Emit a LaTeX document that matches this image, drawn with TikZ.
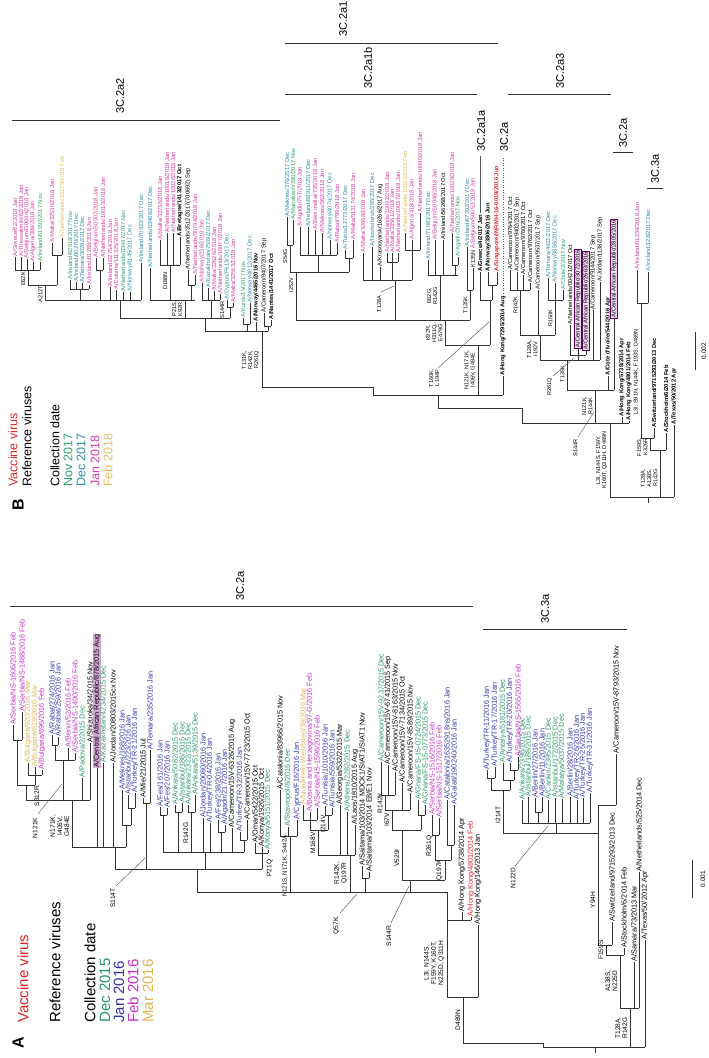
\documentclass[tikz,border=0pt]{standalone}
\usepackage{fontspec}
\setmainfont{Liberation Sans}
\definecolor{vacred}{RGB}{218,40,40}
\definecolor{cgreen}{RGB}{40,150,105}
\definecolor{cblue}{RGB}{52,52,165}
\definecolor{cmag}{RGB}{196,50,200}
\definecolor{cgold}{RGB}{222,182,84}
\definecolor{bgreen}{RGB}{50,160,110}
\definecolor{bteal}{RGB}{48,140,172}
\definecolor{bmag}{RGB}{212,60,165}
\definecolor{bgold}{RGB}{226,194,96}
\newcounter{lfn}
\newcounter{mtn}
\newcommand{\lfont}{}
\newcommand{\mfont}{}
\newcommand{\lf}[5]{\stepcounter{lfn}\draw[tr] (#1,#2) -- (#1,#3) node[lbl,text=#4] (lf\arabic{lfn}) {#5};}
\newcommand{\lfh}[4]{\stepcounter{lfn}\draw[tr] (#1,#2) -- (#1,#3) node[lbl,hl] (lf\arabic{lfn}) {#4};}
\newcommand{\lfb}[4]{\stepcounter{lfn}\draw[tr] (#1,#2) -- (#1,#3) node[lbl,bx] (lf\arabic{lfn}) {#4};}
\newcommand{\br}[3]{\draw[tr] (#1,#2) -- (#1,#3);}
\newcommand{\cn}[3]{\draw[tr] (#2,#1) -- (#3,#1);}
\newcommand{\mt}[3]{\stepcounter{mtn}\node[mut] (mt\arabic{mtn}) at (#1,#2) {#3};}

\begin{document}
\begin{tikzpicture}[x=1pt,y=-1pt,
  tr/.style={line width=0.75pt, draw=black!80},
  ptr/.style={line width=0.45pt, draw=black!65},
  lbl/.style={rotate=90, anchor=west, inner sep=0.5pt, font=\lfont},
  mut/.style={rotate=90, anchor=south, align=center, inner sep=0.5pt, font=\mfont},
  hl/.style={text=black, fill=violet!35, inner sep=0.4pt},
  bx/.style={text=black, draw=violet!75!black, fill=violet!15, line width=0.5pt, inner sep=0.7pt},
  clade/.style={rotate=90, anchor=west, inner sep=0pt, font=\fontsize{11}{13}\selectfont},
  legA/.style={rotate=90, anchor=west, inner sep=0pt, font=\fontsize{15}{17}\selectfont},
  legB/.style={rotate=90, anchor=west, inner sep=0pt, font=\fontsize{12.5}{14}\selectfont},
  panel/.style={rotate=90, font=\fontsize{16}{18}\selectfont\bfseries},
  scl/.style={rotate=90, font=\fontsize{6.5}{7}\selectfont}
]
\fill[white] (0,0) rectangle (709,1058);
\useasboundingbox (0,0) rectangle (709,1058);

%% panel A
\def\lfont{\fontsize{7.3}{8}\selectfont}
\def\mfont{\fontsize{6.6}{7.2}\selectfont}
\node[panel] (pA) at (18,1043) {A};
\node[legA,text=vacred] (vacA) at (23,1023) {Vaccine virus};
\node[legA] (refA) at (55,1023) {Reference viruses};
\node[legA] (colA) at (90,1023) {Collection date};
\node[legA,text=cgreen] (m1A) at (105,1023) {Dec 2015};
\node[legA,text=cblue] (m2A) at (119,1023) {Jan 2016};
\node[legA,text=cmag] (m3A) at (133,1023) {Feb 2016};
\node[legA,text=cgold] (m4A) at (148,1023) {Mar 2016};

\draw[tr] (10,606) -- (473,606);
\node[clade] (c2aA) at (240,601) {3C.2a};
\draw[tr] (483,629) -- (627,629);
\node[clade] (c3aA) at (545,624) {3C.3a};
\draw[tr] (692,860) -- (692,898);
\node[scl] (sA) at (703,879) {0.001};

\cn{740}{13}{22} \br{17}{785}{740}
\lf{13}{740}{725}{cmag}{A/Serbia/NS-1606/2016 Feb}
\lf{22}{740}{712}{cmag}{A/Serbia/NS-1488/2016 Feb}
\cn{775}{28}{42} \br{35}{785}{775}
\lf{28}{775}{763}{cgold}{A/Bulgaria/920/2016 Mar}
\lf{35}{775}{767}{cgold}{A/Bulgaria/619/2016 Mar}
\lf{42}{775}{770}{cmag}{A/Bulgaria/696/2016 Feb}
\cn{785}{17}{35} \br{26}{800}{785}
\mt{40}{796}{S312R}
\cn{745}{52}{58} \br{55}{760}{745}
\lf{52}{745}{735}{cblue}{A/Rabat/274/2016 Jan}
\lf{58}{745}{737}{cblue}{A/Rabat/259/2016 Jan}
\lf{68}{760}{748}{cmag}{A/Benin/52/2016 Feb}
\lf{75}{760}{753}{cmag}{A/Serbia/NS-1490/2016 Feb}
\cn{760}{55}{75} \br{63}{800}{760}
\lf{82}{800}{778}{cgreen}{A/Padova/2/2015 Dec}
\lf{90}{800}{743}{black}{A/Shizuoka/34/2015 Nov}
\cn{800}{26}{90} \br{72}{847}{800}
\mt{38}{828}{N121K}
\draw[ptr] (38,814) -- (62,784);
\mt{70}{826}{N171K,\\I406V,\\G484E}
\lfh{97}{847}{768}{A/Central African Republic/878/2015 Aug}
\lf{103}{847}{763}{cgreen}{A/Kazakhstan/4234/2015 Dec}
\lf{113}{847}{763}{black}{A/Jordan/20803/2015cx Nov}
\cn{825}{122}{131} \br{126}{847}{825}
\lf{122}{825}{790}{cblue}{A/Meknes/168/2016 Jan}
\cn{808}{128}{135} \br{131}{825}{808}
\lf{128}{808}{795}{cblue}{A/Istanbul/223/2016 Jan}
\lf{135}{808}{793}{cblue}{A/Turkey/TR-21/2016 Jan}
\cn{847}{72}{126} \br{115}{869}{847}
\cn{803}{143}{150} \br{146}{869}{803}
\lf{143}{803}{798}{black}{A/Mie/21/2015 Jul}
\lf{150}{803}{750}{cblue}{A/Temara/235/2016 Jan}
\mt{116}{898}{S114T}
\draw[ptr] (116,886) -- (145,858);
\cn{852}{163}{244} \br{205}{869}{852}
\cn{815}{160}{167} \br{163}{852}{815}
\lf{160}{815}{807}{cblue}{A/Fes/161/2016 Jan}
\lf{167}{815}{808}{cblue}{A/Fes/207/2016 Jan}
\cn{812}{175}{182} \br{178}{852}{812}
\lf{175}{812}{805}{cgreen}{A/Ankara/5082/2015 Dec}
\lf{182}{812}{803}{cgreen}{A/Istanbul/186/2015 Dec}
\cn{812}{188}{195} \br{191}{852}{812}
\mt{189}{833}{R142G}
\lf{188}{812}{805}{cgreen}{A/Ankara/2322/2015 Dec}
\lf{195}{812}{795}{cgreen}{A/Ankara/5139/2015 Dec}
\lf{203}{852}{818}{cblue}{A/Jordan/20080/2016 Jan}
\lf{210}{852}{823}{cblue}{A/Turkey/TR-04/2016 Jan}
\cn{832}{218}{225} \br{221}{852}{832}
\lf{218}{832}{820}{cblue}{A/Fes/238/2016 Jan}
\lf{225}{832}{825}{cblue}{A/Agadir/217/2016 Jan}
\lf{232}{852}{828}{black}{A/Cameroon/15V-6326/2015 Aug}
\cn{840}{240}{247} \br{244}{852}{840}
\lf{240}{840}{832}{cblue}{A/Turkey/TR-32/2016 Jan}
\lf{247}{840}{820}{black}{A/Cameroon/15V-7723/2015 Oct}
\cn{853}{255}{268} \br{262}{869}{853}
\lf{255}{853}{843}{black}{A/Oman/5422/2015 Oct}
\lf{262}{853}{847}{black}{A/Konya/1926/2015 Oct}
\lf{268}{853}{850}{cgreen}{A/Konya/5151/2015 Dec}
\node[mut,anchor=north] (p21q) at (266,868) {P21Q};
\cn{869}{115}{262} \br{197}{892}{869}

\cn{836}{280}{297} \br{290}{892}{836}
\lf{280}{836}{790}{black}{A/Catalonia/83966/2015 Nov}
\lf{288}{836}{827}{cgreen}{A/Stavropol/8/2015 Dec}
\lf{297}{836}{820}{cblue}{A/Cyprus/F16/2016 Jan}
\node[mut,font=\fontsize{6}{7}\selectfont] (n121s) at (288,866) {N121S, N171K, S442A};
\br{350}{892}{855} \cn{855}{318}{355}
\mt{348}{873}{R142K,\\Q197R}
\br{318}{855}{830} \cn{830}{310}{328}
\mt{316}{843}{M168V}
\br{310}{830}{820} \cn{820}{303}{317}
\lf{303}{820}{805}{cgold}{A/Nordrhein Westfalen/39/2016 Mar}
\lf{310}{820}{812}{cmag}{A/Bosnia and Herzegovina/97-G/2016 Feb}
\lf{317}{820}{808}{cmag}{A/Serbia/NS-1598/2016 Feb}
\br{328}{830}{815} \cn{815}{325}{332}
\mt{326}{824}{I214V}
\lf{325}{815}{806}{cblue}{A/Tunisia/1010/2016 Jan}
\lf{332}{815}{808}{cblue}{A/Tunisia/559/2016 Jan}
\lf{340}{855}{805}{black}{A/Georgia/532/2015 Mar}
\lf{347}{855}{812}{cgreen}{A/Athens/2282/2015 Dec}
\lf{355}{855}{825}{black}{A/Laos/1810/2015 Aug}
\cn{878}{362}{369} \br{365}{892}{878}
\lf{362}{878}{866}{black}{A/Saitama/103/2014 MDCK1/SIAT1/SIAT1 Nov}
\lf{369}{878}{872}{black}{A/Saitama/103/2014 E8/E1 Nov}
\mt{340}{926}{Q57K}
\draw[ptr] (340,913) -- (357,894);

\br{410}{892}{880} \cn{880}{402}{445}
\br{402}{880}{830} \mt{400}{858}{V529I}
\cn{830}{392}{421}
\br{392}{830}{810} \mt{390}{820}{I67V}
\cn{810}{385}{410}
\br{385}{810}{795} \mt{383}{803}{R142K}
\cn{795}{381}{395}
\lf{381}{795}{762}{cgreen}{A/Cameroon/15V-9237/2015 Dec}
\lf{388}{795}{765}{black}{A/Cameroon/15V-6741/2015 Sep}
\lf{395}{795}{772}{black}{A/Cameroon/15V-8163/2015 Nov}
\lf{402}{810}{783}{black}{A/Cameroon/15V-7134/2015 Oct}
\lf{410}{810}{793}{black}{A/Cameroon/15V-8589/2015 Nov}
\br{421}{830}{815} \cn{815}{418}{425}
\lf{418}{815}{800}{cgreen}{A/Ghana/FS-15-0724/2015 Dec}
\lf{425}{815}{805}{cgreen}{A/Ghana/FS-15-0773/2015 Dec}
\br{445}{880}{860} \mt{443}{870}{Q197K}
\cn{860}{435}{451}
\br{435}{860}{835} \mt{433}{846}{R261Q}
\cn{835}{432}{439}
\lf{432}{835}{815}{cmag}{A/Serbia/NS-1516/2016 Feb}
\lf{439}{835}{818}{cmag}{A/Serbia/NS-1517/2016 Feb}
\br{451}{860}{845} \cn{845}{447}{454}
\lf{447}{845}{800}{cblue}{A/Catalonia/16352918ns/2016 Jan}
\lf{454}{845}{805}{cblue}{A/Galati/190240/2016 Jan}
\mt{392}{936}{S144R}
\draw[ptr] (391,923) -- (409,886);

\cn{892}{197}{447}
\cn{920}{447}{471}
\lf{462}{920}{912}{black}{A/Hong Kong/5738/2014 Apr}
\lf{471}{920}{917}{vacred}{A/Hong Kong/4801/2014 Feb}
\br{447}{997}{892}
\mt{445}{963}{L3I, N144S,\\F159Y, K160T,\\N225D, Q311H}
\lf{478}{997}{925}{black}{A/Hong Kong/146/2013 Jan}
\cn{997}{447}{478}
\br{463}{1043}{997} \mt{461}{1020}{D489N}
\cn{1043}{463}{543} \br{543}{1043}{1047}
\cn{1047}{543}{645} \br{595}{1047}{1053}
\lf{645}{1047}{940}{black}{A/Texas/50/2012 Apr}
\br{630}{1047}{1008} \mt{628}{1028}{T128A,\\R142G}
\cn{1008}{620}{639}
\lf{634}{1008}{962}{black}{A/Samara/73/2013 Mar}
\lf{639}{1008}{872}{black}{A/Netherlands/525/2014 Dec}
\br{620}{1008}{955} \mt{618}{981}{A138S,\\N225D}
\cn{955}{606}{624}
\lf{624}{955}{948}{black}{A/Stockholm/6/2014 Feb}
\br{606}{955}{945} \mt{604}{950}{F159S}
\cn{945}{598}{612}
\lf{612}{945}{922}{black}{A/Switzerland/9715293/2013 Dec}
\br{598}{945}{805} \mt{596}{900}{Y94H}
\cn{805}{598}{616}
\lf{616}{805}{754}{black}{A/Cameroon/15V-8793/2015 Nov}
\cn{833}{503}{598}
\br{556}{833}{823} \cn{823}{522}{590}
\lf{522}{823}{800}{cgreen}{A/Ankara/2396/2015 Dec}
\lf{528}{823}{797}{cgreen}{A/Istanbul/188/2015 Dec}
\cn{812}{535}{542} \br{538}{823}{812}
\lf{535}{812}{798}{cblue}{A/Berlin/27/2016 Jan}
\lf{542}{812}{797}{cblue}{A/Berlin/11/2016 Jan}
\lf{548}{823}{800}{cgreen}{A/Cankiri/2395/2015 Dec}
\lf{555}{823}{798}{cgreen}{A/Istanbul/172/2015 Dec}
\lf{562}{823}{799}{cgreen}{A/Malatya/5037/2015 Dec}
\lf{570}{823}{797}{cblue}{A/Berlin/28/2016 Jan}
\lf{577}{823}{800}{cblue}{A/Turkey/TR-26/2016 Jan}
\lf{583}{823}{798}{cblue}{A/Turkey/TR-25/2016 Jan}
\lf{590}{823}{793}{cblue}{A/Turkey/TR-31/2016 Jan}
\mt{516}{878}{N122D}
\draw[ptr] (515,866) -- (548,826);
\br{503}{833}{790} \mt{501}{815}{I214T}
\cn{790}{491}{510}
\br{491}{790}{778} \cn{778}{487}{495}
\lf{487}{778}{770}{cblue}{A/Turkey/TR-11/2016 Jan}
\lf{495}{778}{767}{cblue}{A/Turkey/TR-17/2016 Jan}
\br{510}{790}{780} \cn{780}{503}{514}
\lf{503}{780}{763}{cgreen}{A/Antalya/5181/2015 Dec}
\br{514}{780}{770} \cn{770}{510}{518}
\lf{510}{770}{763}{cblue}{A/Turkey/TR-20/2016 Jan}
\lf{518}{770}{757}{cmag}{A/Serbia/NS-1565/2016 Feb}

%% panel B
\def\lfont{\fontsize{5.8}{6.5}\selectfont}
\def\mfont{\fontsize{5.6}{6.2}\selectfont}
\node[panel] (pB) at (18,505) {B};
\node[legB,text=vacred] (vacB) at (13,487) {Vaccine virus};
\node[legB] (refB) at (27,487) {Reference viruses};
\node[legB] (colB) at (55,487) {Collection date};
\node[legB,text=bgreen] (m1B) at (68,487) {Nov 2017};
\node[legB,text=bteal] (m2B) at (81,487) {Dec 2017};
\node[legB,text=bmag] (m3B) at (95,487) {Jan 2018};
\node[legB,text=bgold] (m4B) at (108,487) {Feb 2018};

\draw[tr] (12,120) -- (280,120);
\node[clade] (c2a2) at (120,114) {3C.2a2};
\draw[tr] (285,43) -- (498,43);
\node[clade] (c2a1) at (343,37) {3C.2a1};
\draw[tr] (285,94) -- (477,94);
\node[clade] (c2a1b) at (368,89) {3C.2a1b};
\draw[tr] (508,94) -- (611,94);
\node[clade] (c2a3) at (560,89) {3C.2a3};
\node[clade] (c2a1a) at (481,152) {3C.2a1a};
\node[clade] (c2aB) at (504,152) {3C.2a};
\draw[tr] (613,152) -- (633,152);
\node[clade] (c2aC) at (623,148) {3C.2a};
\draw[tr] (647,188) -- (663,188);
\node[clade] (c3aB) at (655,184) {3C.3a};
\draw[tr] (695,332) -- (695,370);
\node[scl] (sB) at (704,351) {0.002};

\cn{270}{15}{40} \br{28}{285}{270}
\mt{26}{279}{E62K}
\lf{15}{270}{257}{bmag}{A/Greece/62/2018 Jan}
\lf{21}{270}{257}{bmag}{A/Thessaloniki/62/2018 Jan}
\lf{27}{270}{259}{bmag}{A/Belgium/G0044/2018 Jan}
\lf{33}{270}{262}{bmag}{A/Algeria/388/2018 Jan}
\lf{40}{270}{262}{bgreen}{A/Ireland/61097/2017 Nov}
\cn{255}{52}{62} \br{57}{285}{255}
\lf{52}{255}{243}{bmag}{A/Malta/32530/2018 Jan}
\lf{62}{255}{238}{bgold}{A/Netherlands/10279/2018 Feb}
\cn{285}{28}{57} \br{45}{300}{285}
\mt{43}{294}{A212T}
\cn{289}{70}{89} \br{80}{300}{289}
\lf{70}{289}{280}{bgreen}{A/Ireland/82518/2017 Nov}
\lf{76}{289}{282}{bteal}{A/Ireland/00270/2017 Dec}
\lf{82}{289}{283}{bteal}{A/Temara/3028/2017 Dec}
\lf{89}{289}{285}{bmag}{A/Ireland/01288/2018 Jan}
\cn{270}{96}{103} \br{100}{300}{270}
\lf{96}{270}{258}{bmag}{A/Belgium/S0007/2018 Jan}
\lf{103}{270}{258}{bmag}{A/Netherlands/10013/2018 Jan}
\lf{110}{300}{287}{bmag}{A/Ireland/02754/2018 Jan}
\lf{116}{300}{290}{bmag}{A/Estonia/111325/2018 Jan}
\lf{123}{300}{292}{bgreen}{A/Netherlands/03447/2017 Nov}
\lf{130}{300}{292}{bteal}{A/Norway/4145/2017 Dec}
\lf{141}{300}{263}{bteal}{A/Ireland/70922/2017 Dec}
\cn{300}{45}{141} \br{120}{318}{300}
\lf{150}{300}{268}{bteal}{A/Netherlands/03466/2017 Dec}
\cn{265}{160}{180} \br{170}{300}{265}
\mt{168}{281}{D188N}
\lf{160}{265}{240}{bmag}{A/Malta/33736/2018 Jan}
\lf{167}{265}{233}{bmag}{A/Netherlands/10016/2018 Jan}
\lf{173}{265}{233}{bmag}{A/Netherlands/10028/2018 Jan}
\lf{180}{265}{237}{black}{\textbf{A/Bretagne/1413/2017 Oct}}
\cn{285}{188}{195} \br{191}{300}{285}
\lf{188}{285}{270}{black}{A/Netherlands/3512/2017(700692) Sep}
\lf{195}{285}{275}{bmag}{A/Netherlands/00744/2018 Jan}
\cn{300}{150}{195} \br{185}{318}{300}
\mt{183}{309}{P21S,\\K92R}
\cn{300}{202}{220} \br{211}{318}{300}
\lf{202}{300}{283}{bmag}{A/Norway/238/2018 Jan}
\lf{208}{300}{288}{bteal}{A/Kazakhstan/7509/2017 Dec}
\lf{214}{300}{291}{bmag}{A/Malta/32626/2018 Jan}
\lf{220}{300}{294}{bmag}{A/Netherlands/10077/2018 Jan}
\cn{307}{227}{233} \br{230}{318}{307}
\lf{227}{307}{300}{bteal}{A/Cyprus/F613/2017 Dec}
\lf{233}{307}{303}{bmag}{A/Malta/32563/2018 Jan}
\mt{225}{310}{S144R}
\cn{318}{120}{230} \br{205}{331}{318}
\cn{324}{243}{250} \br{247}{331}{324}
\lf{243}{324}{318}{bgreen}{A/Kursk/1V/2017 Nov}
\lf{250}{324}{303}{bteal}{A/Norway/4012/2017 Dec}
\lf{256}{331}{322}{black}{\textbf{A/Norway/4465/2016 Nov}}
\cn{326}{264}{271} \br{268}{331}{326}
\lf{264}{326}{313}{black}{A/Cameroon/9407/2017 Sep}
\lf{271}{326}{320}{black}{\textbf{A/Nantes/1441/2017 Oct}}
\cn{331}{205}{268} \br{262}{387}{331}
\mt{260}{360}{T131K,\\R142K,\\R261Q}
\cn{387}{262}{373} \br{373}{387}{395}
\cn{395}{373}{503} \br{438}{408}{395}
\cn{408}{438}{522} \br{522}{423}{408}

\br{478}{395}{345}
\mt{476}{370}{N121K, N171K,\\I406V, G484E}
\cn{345}{445}{490}
\br{490}{345}{300}
\mt{440}{378}{T160K,\\L194P}
\draw[ptr] (438,368) -- (489,322);
\cn{300}{480}{492}
\lf{480}{300}{272}{black}{\textbf{A/Greece/4/2017 Jan}}
\cn{285}{488}{497} \br{492}{300}{285}
\lf{488}{285}{272}{black}{\textbf{A/Norway/3806/2016 Jun}}
\lf{497}{285}{272}{vacred}{\textbf{A/Singapore/INFIMH-16-0019/2016 Jun}}
\lf{503}{395}{376}{black}{\textbf{A/Hong Kong/7295/2014 Aug}}
\draw[ptr] (480,213) -- (480,156);
\draw[ptr,dotted] (503,293) -- (503,156);

\br{445}{345}{320}
\mt{443}{333}{K92R,\\H311Q,\\E479G}
\cn{320}{296}{470}
\br{296}{320}{272} \mt{294}{285}{I252V}
\cn{272}{290}{349}
\br{290}{272}{245} \mt{288}{256}{S54G}
\cn{245}{287}{293}
\lf{287}{245}{217}{bteal}{A/Meknes/376/2017 Dec}
\lf{293}{245}{220}{bgreen}{A/Marrakech/280/2017 Nov}
\br{318}{272}{255} \cn{255}{300}{337}
\lf{300}{255}{227}{bmag}{A/Agadir/757/2018 Jan}
\lf{308}{255}{227}{bteal}{A/Ireland/68911/2017 Dec}
\lf{315}{255}{230}{bmag}{A/Beni mellal/735/2018 Jan}
\lf{322}{255}{233}{bmag}{A/Meknes/662/2018 Jan}
\lf{330}{255}{240}{bteal}{A/Norway/4074/2017 Dec}
\lf{337}{255}{243}{bmag}{A/Rabat/799/2018 Jan}
\br{349}{272}{258} \cn{258}{345}{353}
\lf{345}{258}{250}{bteal}{A/Tunis/12773/2017 Dec}
\lf{353}{258}{240}{bmag}{A/Malta/513174/2018 Jan}
\br{395}{320}{280} \cn{280}{363}{412}
\mt{382}{304}{T128A}
\draw[ptr] (381,292) -- (394,286);
\lf{363}{280}{253}{bmag}{A/Malta/32668/2018 Jan}
\lf{372}{280}{247}{bteal}{A/Novosibirsk/265/2017 Dec}
\lf{380}{280}{267}{black}{A/Krasnoyarsk/16266/2017 Aug}
\br{392}{280}{262} \cn{262}{387}{398}
\lf{387}{262}{253}{bmag}{A/Netherlands/10042/2018 Jan}
\lf{392}{262}{253}{bmag}{A/Malta/33561/2018 Jan}
\lf{398}{262}{253}{bmag}{A/Netherlands/10037/2018 Jan}
\br{412}{280}{250} \cn{250}{405}{420}
\lf{405}{250}{233}{bgold}{A/Netherlands/10060/2018 Feb}
\lf{412}{250}{240}{bmag}{A/Algeria/418/2018 Jan}
\lf{420}{250}{213}{bmag}{A/Netherlands/10090/2018 Jan}
\br{440}{320}{275} \mt{438}{296}{E62G,\\R142G}
\cn{275}{428}{458}
\lf{428}{275}{260}{bteal}{A/Ireland/71083/2017 Dec}
\lf{435}{275}{240}{bmag}{A/Belgium/S0048/2018 Jan}
\lf{443}{275}{240}{black}{A/Ireland/56268/2017 Oct}
\br{455}{275}{265} \cn{265}{452}{458}
\lf{452}{265}{233}{bmag}{A/Netherlands/10029/2018 Jan}
\lf{458}{265}{257}{bgreen}{A/Agadir/206/2017 Nov}
\br{470}{320}{290} \mt{468}{305}{T135K}
\cn{290}{467}{473}
\lf{467}{290}{247}{bteal}{A/Ireland/67392/2017 Dec}
\br{473}{290}{268}
\node[mut,anchor=west] (k135n) at (473,268) {K135N};
\node[lbl,text=bmag] (s0052) at (473,249) {A/Belgium/S0052/2018 Jan};

\cn{423}{522}{629} \br{610}{497}{423}
\mt{608}{460}{L3I, N144S, F159Y,\\K160T, Q311H, D489N}
\br{595}{423}{390} \mt{593}{406}{N121K,\\R144K}
\mt{578}{448}{S144R}
\draw[ptr] (578,437) -- (594,412);
\cn{390}{567}{614}
\lf{608}{390}{376}{black}{\textbf{A/Cote d'Ivoire/544/2016 Apr}}
\lfb{614}{390}{318}{A/Central African Republic/2805/2016}
\br{567}{390}{360} \mt{565}{374}{T135K}
\cn{360}{540}{600}
\br{540}{360}{335} \mt{538}{349}{T128A,\\I192V}
\cn{335}{520}{555}
\br{520}{335}{290} \mt{518}{305}{R142K}
\cn{290}{510}{530}
\lf{510}{290}{270}{black}{A/Cameroon/9764/2017 Oct}
\lf{517}{290}{272}{black}{A/Cameroon/9402/2017 Sep}
\lf{523}{290}{275}{black}{A/Cameroon/9760/2017 Oct}
\lf{530}{290}{283}{black}{A/Cameroon/9762/2017 Oct}
\lf{538}{335}{290}{black}{A/Cameroon/9537/2017 Sep}
\br{555}{335}{300} \mt{553}{318}{R150K}
\cn{300}{548}{563}
\lf{548}{300}{278}{bteal}{A/Temara/4422/2017 Dec}
\lf{555}{300}{283}{bteal}{A/Norway/3858/2017 Dec}
\lf{563}{300}{290}{bgreen}{A/Chile/2/2017 Nov}
\br{578}{360}{355} \cn{355}{570}{586}
\lf{570}{355}{325}{black}{A/Netherlands/00421/2017 Oct}
\lfb{578}{355}{348}{A/Central African Republic/3072/2016}
\lfb{586}{355}{350}{A/Central African Republic/2663/2016}
\lf{593}{360}{310}{black}{A/Cameroon/9144/2017 Sep}
\lf{600}{360}{282}{black}{A/Jordan/1138/2017 Sep}
\mt{553}{387}{R261Q}
\draw[ptr] (553,376) -- (574,358);
\lf{622}{423}{417}{black}{\textbf{A/Hong Kong/5738/2014 Apr}}
\lf{629}{423}{421}{black}{\textbf{A/Hong Kong/4801/2014 Feb}}

\br{660}{497}{450} \mt{658}{478}{T128A,\\A138S,\\R142G}
\cn{450}{650}{666}
\lf{666}{450}{433}{black}{\textbf{A/Stockholm/6/2014 Feb}}
\br{650}{450}{438} \mt{648}{447}{F159S,\\K326R}
\cn{438}{641}{654}
\lf{654}{438}{428}{black}{\textbf{A/Switzerland/9715293/2013 Dec}}
\br{641}{438}{303} \mt{639}{372}{L3I, S91N, N144K, F193S, D489N}
\cn{303}{637}{648}
\lf{637}{303}{270}{bmag}{A/Ireland/01234/2018 Jan}
\lf{648}{303}{272}{bteal}{A/Iceland/128/2017 Dec}
\lf{674}{497}{425}{black}{\textbf{A/Texas/50/2012 Apr}}
\cn{497}{610}{674} \br{648}{497}{503}
\end{tikzpicture}
\end{document}
